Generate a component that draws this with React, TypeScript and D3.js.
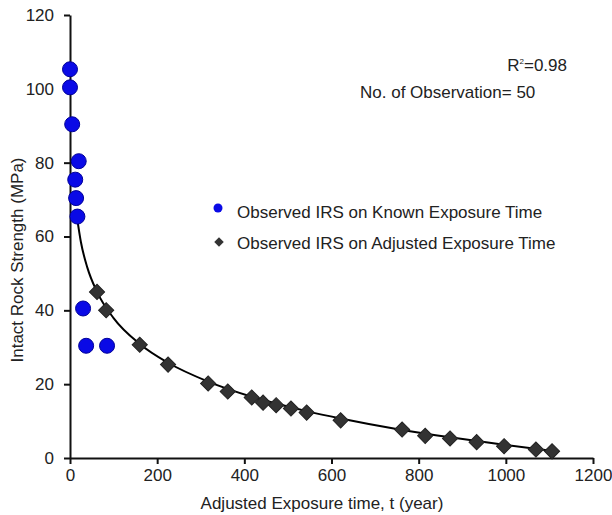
import React, { useEffect, useRef } from 'react';
import * as d3 from 'd3';

// observed IRS on known exposure time (blue circles)
const knownTime = [0, 0, 5, 20, 12, 14, 17, 30, 37, 85];
const knownIRS = [105.3, 100.4, 90.4, 80.4, 75.4, 70.4, 65.4, 40.5, 30.4, 30.4];

// observed IRS on adjusted exposure time (diamonds)
const adjTime = [62, 83, 160, 225, 317, 362, 417, 443, 473, 507, 543, 621, 762, 815, 872, 933, 996, 1069, 1106];
const adjIRS = [45, 40, 30.7, 25.3, 20.2, 18, 16.4, 15, 14.3, 13.4, 12.3, 10.2, 7.7, 6, 5.3, 4.3, 3.2, 2.3, 1.8];

// fitted curve
const fitTime = [16, 25, 40, 62, 100, 160, 225, 317, 417, 543, 621, 762, 872, 996, 1110];
const fitIRS = [65.2, 58.5, 51.5, 45, 37.9, 30.9, 25.8, 20.7, 16.6, 12.7, 10.7, 7.6, 5.6, 3.6, 1.9];

const xTicks = [0, 200, 400, 600, 800, 1000, 1200];
const yTicks = [0, 20, 40, 60, 80, 100, 120];

const legendLabels = ['Observed IRS on Known Exposure Time', 'Observed IRS on Adjusted Exposure Time'];

const W = 612;
const H = 515;
const FONT = 'Liberation Sans, Arial, sans-serif';
const FS = 17;

const App = () => {
  const xAxisRef = useRef<SVGGElement>(null);
  const yAxisRef = useRef<SVGGElement>(null);

  const x = d3.scaleLinear().domain([0, 1200]).range([70, 593]);
  const y = d3.scaleLinear().domain([0, 120]).range([458, 15]);

  useEffect(() => {
    const xa = d3.select(xAxisRef.current);
    xa.selectAll('*').remove();
    xa.call(d3.axisBottom(x).tickValues(xTicks).tickFormat(d3.format('d')).tickSize(6).tickSizeOuter(0).tickPadding(5));
    const ya = d3.select(yAxisRef.current);
    ya.selectAll('*').remove();
    ya.call(d3.axisLeft(y).tickValues(yTicks).tickFormat(d3.format('d')).tickSize(6).tickSizeOuter(0).tickPadding(10));
    [xa, ya].forEach(g => {
      g.select('.domain').attr('stroke', '#111').attr('stroke-width', 2);
      g.selectAll('.tick line').attr('stroke', '#111').attr('stroke-width', 2);
      g.selectAll('.tick text')
        .attr('font-family', FONT)
        .attr('font-size', FS)
        .attr('fill', '#222');
    });
  }, []);

  const line = d3.line<number>()
    .x((_, i) => x(fitTime[i]))
    .y(d => y(d))
    .curve(d3.curveMonotoneX);

  const diamond = d3.symbol().type(d3.symbolSquare).size(115)();
  const smallDiamond = d3.symbol().type(d3.symbolSquare).size(45)();

  return (
    <svg width={W} height={H} style={{ position: 'absolute', left: 0, top: 0, background: '#fff' }}>
      <g ref={xAxisRef} transform={`translate(0, ${y(0)})`} />
      <g ref={yAxisRef} transform={`translate(${x(0)}, 0)`} />

      <path d={line(fitIRS) || ''} fill="none" stroke="#000" strokeWidth={2} />

      {adjTime.map((t, i) => (
        <path
          key={'d' + i}
          d={diamond || ''}
          transform={`translate(${x(t)}, ${y(adjIRS[i])}) rotate(45)`}
          fill="#333"
          stroke="#222"
          strokeWidth={1}
        />
      ))}

      {knownTime.map((t, i) => (
        <circle
          key={'c' + i}
          cx={x(t)}
          cy={y(knownIRS[i])}
          r={7.5}
          fill="#0a0ae6"
          stroke="#000099"
          strokeWidth={1}
        />
      ))}

      {/* legend */}
      <circle cx={218} cy={208} r={4.5} fill="#0a0ae6" />
      <text x={237} y={218} fontFamily={FONT} fontSize={FS} fill="#222">{legendLabels[0]}</text>
      <path d={smallDiamond || ''} transform="translate(219, 242) rotate(45)" fill="#333" />
      <text x={237} y={249} fontFamily={FONT} fontSize={FS} fill="#222">{legendLabels[1]}</text>

      {/* stats */}
      <text x={567} y={71} textAnchor="end" fontFamily={FONT} fontSize={FS} fill="#222">
        R<tspan dy={-7} fontSize={8}>2</tspan><tspan dy={7}>=0.98</tspan>
      </text>
      <text x={360} y={98} fontFamily={FONT} fontSize={FS} fill="#222">No. of Observation= 50</text>

      {/* axis titles */}
      <text
        transform={`translate(23, 260) rotate(-90)`}
        textAnchor="middle"
        fontFamily={FONT}
        fontSize={FS}
        fill="#222"
      >
        Intact Rock Strength (MPa)
      </text>
      <text x={322} y={509} textAnchor="middle" fontFamily={FONT} fontSize={FS} fill="#222">
        Adjusted Exposure time, t (year)
      </text>
    </svg>
  );
};

export default App;
